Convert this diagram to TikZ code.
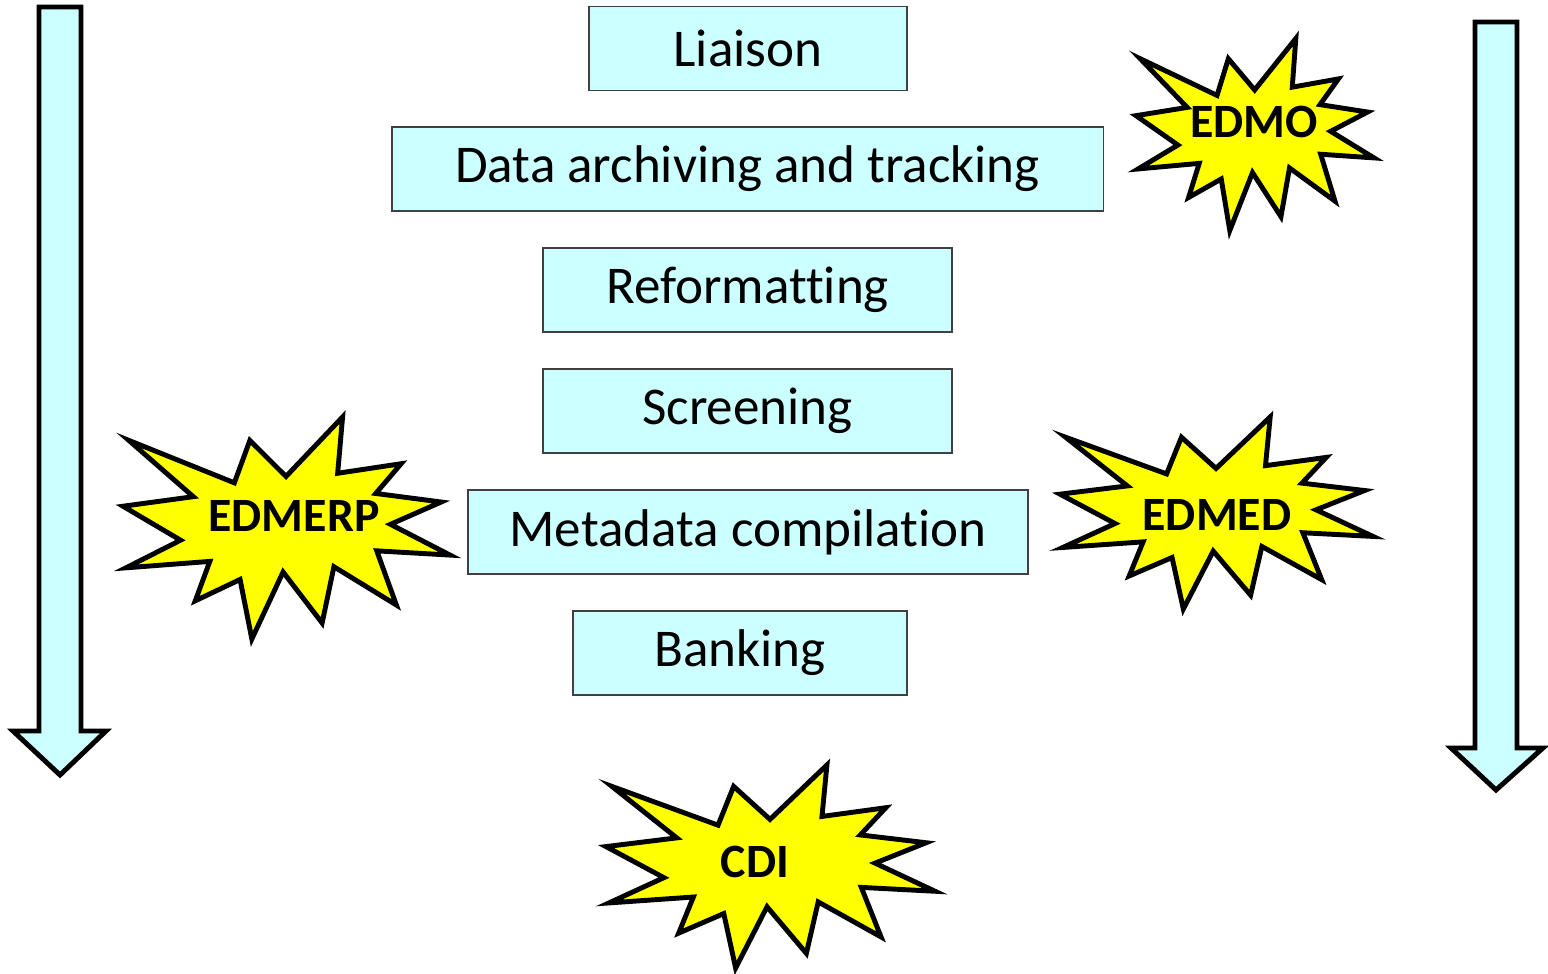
\documentclass[tikz,border=0pt]{standalone}
\usepackage{fontspec}
\setmainfont{Carlito}[Ligatures=NoCommon]
\usetikzlibrary{positioning}
\definecolor{boxcyan}{HTML}{CCFFFF}
\definecolor{burstyellow}{HTML}{FFFF00}
\tikzset{
  stepbox/.style={draw=black!75, line width=0.4pt, fill=boxcyan, inner sep=0pt,
    minimum height=0.84cm, font=\fontsize{15.1}{18}\selectfont},
  flowarrow/.style={draw=black, line width=1.4pt, fill=boxcyan, line join=miter},
  burst/.style={draw=black, line width=1.4pt, fill=burstyellow, line join=miter},
  burstlabel/.style={inner sep=0pt, font=\fontsize{13.6}{16}\selectfont\bfseries}
}
% explosion outline, centre (#1,#2), half width #3, half height #4
\newcommand{\burst}[4]{%
  \begin{scope}[shift={(#1,#2)}, xscale=#3, yscale=#4]
    \draw[burst] (-0.964,-0.789) -- (-0.319,-0.407) -- (-0.224,-0.789) -- (-0.003,-0.464)
      -- (0.343,-1) -- (0.313,-0.493) -- (0.701,-0.579) -- (0.546,-0.311)
      -- (0.946,-0.234) -- (0.636,-0.033) -- (1,0.244) -- (0.552,0.206)
      -- (0.672,0.694) -- (0.290,0.349) -- (0.218,0.856) -- (-0.021,0.397)
      -- (-0.212,1) -- (-0.284,0.464) -- (-0.558,0.656) -- (-0.469,0.301)
      -- (-0.982,0.359) -- (-0.648,0.110) -- (-1,-0.196) -- (-0.570,-0.282) -- cycle;
  \end{scope}}

\begin{document}
\begin{tikzpicture}[x=0.01cm, y=-0.01cm]
  \useasboundingbox (0,0) rectangle (1548,974);

  %%%%% arrows %%%%%
  \draw[flowarrow] (39,7) -- (81,7) -- (81,731) -- (106,731) -- (60,775)
    -- (13,731) -- (39,731) -- cycle;
  \draw[flowarrow] (1475,22) -- (1517,22) -- (1517,748) -- (1543,748) -- (1496,790)
    -- (1451,748) -- (1475,748) -- cycle;

  %%%%% steps %%%%%
  \node[stepbox, minimum width=3.18cm] (liaison) at (748,48.5) {\raisebox{-1pt}{Liaison}};
  \node[stepbox, minimum width=7.11cm] (archiving) at (747.5,169) {\raisebox{-1pt}{Data archiving and tracking}};
  \node[stepbox, minimum width=4.09cm] (reformat) at (747.5,290) {\raisebox{-1pt}{Reformatting}};
  \node[stepbox, minimum width=4.09cm] (screening) at (747.5,411) {\raisebox{-1pt}{Screening}};
  \node[stepbox, minimum width=5.60cm] (metadata) at (748,532) {\raisebox{-1pt}{Metadata compilation}};
  \node[stepbox, minimum width=3.34cm] (banking) at (740,653) {\raisebox{-1pt}{Banking}};

  %%%%% bursts %%%%%
  \burst{1255}{134.5}{119}{96}
  \node[burstlabel] (edmo) at (1254,122) {EDMO};

  \burst{286.5}{528}{163.5}{111}
  \node[burstlabel] (edmerp) at (294,516) {EDMERP};

  \burst{1216.5}{513}{156.5}{96}
  \node[burstlabel] (edmed) at (1217,515) {EDMED};

  \burst{770.5}{866.5}{164.5}{101.5}
  \node[burstlabel] (cdi) at (755,862) {CDI};
\end{tikzpicture}
\end{document}
